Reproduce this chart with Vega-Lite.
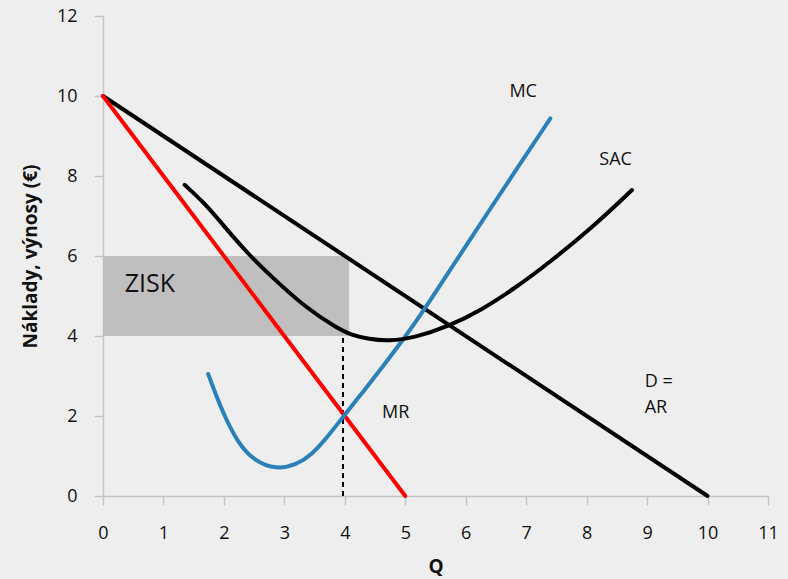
{
  "$schema": "https://vega.github.io/schema/vega-lite/v6.json",
  "width": 665,
  "height": 480,
  "autosize": {"type": "none"},
  "padding": {"left": 103, "top": 16, "right": 20, "bottom": 83},
  "background": "#eeeeee",
  "config": {
    "view": {"stroke": null},
    "font": "Open Sans",
    "axis": {
      "grid": false,
      "domainColor": "#c4c4c4",
      "domainWidth": 1.5,
      "tickColor": "#c4c4c4",
      "tickWidth": 1.5,
      "tickSize": 9,
      "labelFont": "Open Sans",
      "labelFontSize": 18,
      "labelColor": "#111111",
      "titleFont": "Open Sans",
      "titleFontWeight": "bold",
      "titleFontSize": 19,
      "titleColor": "#111111"
    }
  },
  "datasets": {
    "lines": [
      {"s": "D", "x": 0, "y": 10, "o": 1},
      {"s": "D", "x": 10, "y": 0, "o": 2},
      {"s": "MR", "x": 0, "y": 10, "o": 1},
      {"s": "MR", "x": 5, "y": 0, "o": 2},
      {"s": "MC", "x": 1.74, "y": 3.05, "o": 1},
      {"s": "MC", "x": 1.96, "y": 2.15, "o": 2},
      {"s": "MC", "x": 2.23, "y": 1.32, "o": 3},
      {"s": "MC", "x": 2.5, "y": 0.88, "o": 4},
      {"s": "MC", "x": 2.87, "y": 0.66, "o": 5},
      {"s": "MC", "x": 3.2, "y": 0.78, "o": 6},
      {"s": "MC", "x": 3.45, "y": 1.03, "o": 7},
      {"s": "MC", "x": 3.7, "y": 1.45, "o": 8},
      {"s": "MC", "x": 3.97, "y": 1.98, "o": 9},
      {"s": "MC", "x": 4.3, "y": 2.6, "o": 10},
      {"s": "MC", "x": 4.61, "y": 3.2, "o": 11},
      {"s": "MC", "x": 5.0, "y": 3.98, "o": 12},
      {"s": "MC", "x": 5.33, "y": 4.69, "o": 13},
      {"s": "MC", "x": 6.1, "y": 6.48, "o": 14},
      {"s": "MC", "x": 6.7, "y": 7.85, "o": 15},
      {"s": "MC", "x": 7.4, "y": 9.44, "o": 16},
      {"s": "SAC", "x": 1.35, "y": 7.78, "o": 1},
      {"s": "SAC", "x": 1.68, "y": 7.32, "o": 2},
      {"s": "SAC", "x": 1.96, "y": 6.82, "o": 3},
      {"s": "SAC", "x": 2.43, "y": 6.0, "o": 4},
      {"s": "SAC", "x": 2.79, "y": 5.48, "o": 5},
      {"s": "SAC", "x": 3.34, "y": 4.72, "o": 6},
      {"s": "SAC", "x": 3.89, "y": 4.18, "o": 7},
      {"s": "SAC", "x": 4.11, "y": 4.03, "o": 8},
      {"s": "SAC", "x": 4.4, "y": 3.92, "o": 9},
      {"s": "SAC", "x": 4.72, "y": 3.87, "o": 10},
      {"s": "SAC", "x": 5.16, "y": 3.96, "o": 11},
      {"s": "SAC", "x": 5.72, "y": 4.24, "o": 12},
      {"s": "SAC", "x": 6.27, "y": 4.66, "o": 13},
      {"s": "SAC", "x": 6.8, "y": 5.18, "o": 14},
      {"s": "SAC", "x": 7.37, "y": 5.82, "o": 15},
      {"s": "SAC", "x": 8.1, "y": 6.72, "o": 16},
      {"s": "SAC", "x": 8.75, "y": 7.65, "o": 17}
    ]
  },
  "layer": [
    {
      "data": {"values": [{"x": 0, "x2": 4.07, "y": 4, "y2": 6}]},
      "mark": {"type": "rect", "color": "#bfbfbf"},
      "encoding": {
        "x": {
          "field": "x", "type": "quantitative",
          "scale": {"domain": [0, 11], "nice": false, "zero": false},
          "axis": {
            "values": [0, 1, 2, 3, 4, 5, 6, 7, 8, 9, 10, 11],
            "format": "d",
            "labelBaseline": "middle",
            "labelPadding": 28,
            "labelFlush": false,
            "title": "Q",
            "titleBaseline": "alphabetic",
            "titleY": 76,
            "titleFontSize": 19
          }
        },
        "x2": {"field": "x2"},
        "y": {
          "field": "y", "type": "quantitative",
          "scale": {"domain": [0, 12], "nice": false, "zero": false},
          "axis": {
            "values": [0, 2, 4, 6, 8, 10, 12],
            "format": "d",
            "labelPadding": 17,
            "labelFlush": false,
            "title": "Náklady, výnosy (€)",
            "titleAngle": 270,
            "titleBaseline": "middle",
            "titleAlign": "center",
            "titleX": -73,
            "titleY": 240
          }
        },
        "y2": {"field": "y2"}
      }
    },
    {
      "data": {"values": [{"x": 3.97, "y": 0, "y2": 4}]},
      "mark": {"type": "rule", "color": "#000000", "strokeWidth": 2, "strokeDash": [5, 4]},
      "encoding": {
        "x": {"field": "x", "type": "quantitative", "title": "Q"},
        "y": {"field": "y", "type": "quantitative", "title": "Náklady, výnosy (€)"},
        "y2": {"field": "y2"}
      }
    },
    {
      "data": {"name": "lines"},
      "mark": {"type": "line", "strokeWidth": 4, "interpolate": "basis", "strokeCap": "round"},
      "encoding": {
        "x": {"field": "x", "type": "quantitative", "title": "Q"},
        "y": {"field": "y", "type": "quantitative", "title": "Náklady, výnosy (€)"},
        "detail": {"field": "s"},
        "order": {"field": "o", "type": "quantitative"},
        "color": {
          "field": "s", "type": "nominal",
          "scale": {"domain": ["D", "MR", "MC", "SAC"], "range": ["#000000", "#ff0000", "#2a80b9", "#000000"]},
          "legend": null
        }
      }
    },
    {
      "data": {"values": [
        {"x": 6.95, "y": 10.11, "t": "MC"},
        {"x": 8.48, "y": 8.4, "t": "SAC"},
        {"x": 4.84, "y": 2.07, "t": "MR"}
      ]},
      "mark": {"type": "text", "fontSize": 18, "color": "#111111", "align": "center", "baseline": "middle", "font": "Open Sans"},
      "encoding": {
        "x": {"field": "x", "type": "quantitative", "title": "Q"},
        "y": {"field": "y", "type": "quantitative", "title": "Náklady, výnosy (€)"},
        "text": {"field": "t"}
      }
    },
    {
      "data": {"values": [
        {"x": 8.96, "y": 2.86, "t": "D ="},
        {"x": 8.96, "y": 2.19, "t": "AR"}
      ]},
      "mark": {"type": "text", "fontSize": 18, "color": "#111111", "align": "left", "baseline": "middle", "font": "Open Sans"},
      "encoding": {
        "x": {"field": "x", "type": "quantitative", "title": "Q"},
        "y": {"field": "y", "type": "quantitative", "title": "Náklady, výnosy (€)"},
        "text": {"field": "t"}
      }
    },
    {
      "data": {"values": [{"x": 0.36, "y": 5.29, "t": "ZISK"}]},
      "mark": {"type": "text", "fontSize": 25, "color": "#111111", "align": "left", "baseline": "middle", "font": "Open Sans"},
      "encoding": {
        "x": {"field": "x", "type": "quantitative", "title": "Q"},
        "y": {"field": "y", "type": "quantitative", "title": "Náklady, výnosy (€)"},
        "text": {"field": "t"}
      }
    }
  ]
}
